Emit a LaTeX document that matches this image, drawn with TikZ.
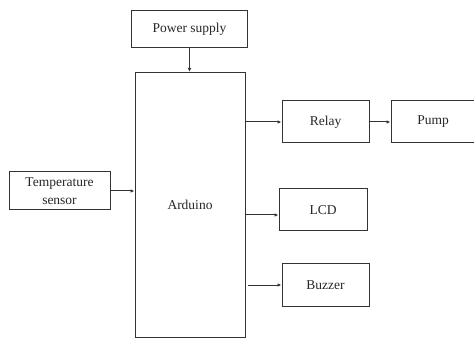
\documentclass[tikz,border=0pt]{standalone}
\usepackage{fontspec}
\setmainfont{Liberation Serif}
\usetikzlibrary{arrows.meta}
\begin{document}
\begin{tikzpicture}[x=1pt,y=-1pt,
  blk/.style={draw=black!80,line width=1pt,rectangle,inner sep=0pt,font=\fontsize{13.5}{18}\selectfont,text=black!85,align=center},
  conn/.style={draw=black!80,line width=1pt,-{Latex[length=4pt,width=3.5pt]}}]
\useasboundingbox (0,0) rectangle (474,339);
\clip (0,0) rectangle (474,339);
\node[blk,minimum width=116pt,minimum height=37pt] (ps) at (189.5,29.5) {Power supply};
\node[blk,minimum width=110pt,minimum height=265pt] (ard) at (190,205) {Arduino};
\node[blk,minimum width=101pt,minimum height=38pt] (ts) at (59.5,191) {Temperature\\sensor};
\node[blk,minimum width=87pt,minimum height=42pt] (relay) at (325.5,122) {Relay};
\node[blk,minimum width=92pt,minimum height=42pt] (pump) at (437,122) {Pump\hspace{8pt}};
\node[blk,minimum width=88pt,minimum height=42pt] (lcd) at (323,210) {LCD};
\node[blk,minimum width=87pt,minimum height=42pt] (buz) at (325.5,285) {Buzzer};
\coordinate (lcdin) at ([yshift=-5pt]lcd.west);
\coordinate (buzout) at ([xshift=2pt]ard.east |- buz.west);
\draw[conn] (ps.south) -- (ps.south |- ard.north);
\draw[conn] (ts.east) -- (ts.east -| ard.west);
\draw[conn] (ard.east |- relay.west) -- (relay.west);
\draw[conn] (relay.east) -- (pump.west);
\draw[conn] (ard.east |- lcdin) -- (lcdin);
\draw[conn] (buzout) -- (buz.west);
\end{tikzpicture}
\end{document}
